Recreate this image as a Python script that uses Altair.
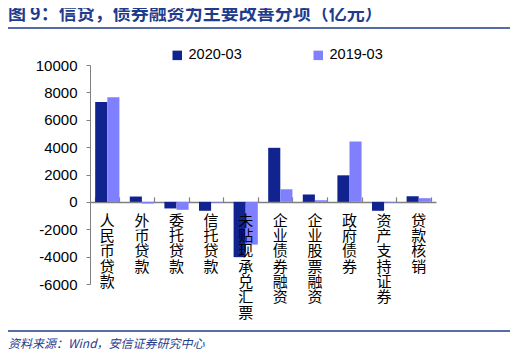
import altair as alt
import pandas as pd

categories = ["人民币贷款", "外币贷款", "委托贷款", "信托贷款", "未贴现承兑汇票",
              "企业债券融资", "企业股票融资", "政府债券", "资产支持证券", "贷款核销"]
series = ["2020-03", "2019-03"]
v2020 = [7290, 390, -480, -650, -4040, 3950, 540, 1940, -650, 410]
v2019 = [7650, -120, -580, -40, -3120, 920, 120, 4410, -50, 270]
colors = ["#10238E", "#8080FF"]
y_ticks = [-6000, -4000, -2000, 0, 2000, 4000, 6000, 8000, 10000]

rows = []
for c, a, b in zip(categories, v2020, v2019):
    rows.append({"cat": c, "series": series[0], "value": a})
    rows.append({"cat": c, "series": series[1], "value": b})
df = pd.DataFrame(rows)
lab = pd.DataFrame({"cat": categories, "lab": ["\n".join(list(c)) for c in categories], "value": [0] * len(categories)})

W, H = 346, 219
CJK = "Noto Sans CJK SC"
LAT = "Liberation Sans"

xscale = alt.Scale(paddingInner=0.3, paddingOuter=0.15)
xaxis = alt.Axis(orient="top", offset=-H * 10 / 16, labels=False, ticks=True,
                 tickBand="extent", tickSize=5, tickColor="#808080",
                 domainColor="#808080", domainWidth=1.5, tickWidth=1.2)
yscale = alt.Scale(domain=[-6000, 10000], nice=False)
yaxis = alt.Axis(values=y_ticks, labelExpr="'' + datum.value", labelOverlap=False,
                 labelBound=False, labelFlush=False,
                 grid=False, tickSize=4, tickColor="#808080",
                 domainColor="#808080", labelFont=LAT, labelFontSize=15,
                 labelColor="#000000", labelPadding=9)

bars = alt.Chart(df).mark_bar().encode(
    x=alt.X("cat:N", sort=categories, title=None, scale=xscale, axis=xaxis),
    xOffset=alt.XOffset("series:N", sort=series, scale=alt.Scale(paddingInner=0, paddingOuter=0)),
    y=alt.Y("value:Q", scale=yscale, title=None, axis=yaxis),
    color=alt.Color("series:N", sort=series, scale=alt.Scale(domain=series, range=colors),
                    legend=alt.Legend(title=None, orient="none", legendX=80, legendY=-17,
                                      direction="horizontal", symbolType="square", symbolSize=90,
                                      symbolStrokeWidth=0, labelFont=LAT, labelFontSize=14.5,
                                      labelColor="#000000", columnPadding=69, labelOffset=4)),
)

labels = alt.Chart(lab).mark_text(lineBreak="\n", baseline="top", dy=12, font=CJK,
                                  fontSize=15, lineHeight=15.3, color="#000000").encode(
    x=alt.X("cat:N", sort=categories, title=None, scale=xscale, axis=xaxis),
    y=alt.Y("value:Q", scale=yscale, title=None, axis=yaxis),
    text="lab:N",
)

title = alt.Chart(pd.DataFrame({"t": ["图 9：信贷，债券融资为主要改善分项（亿元）"]})).mark_text(
    align="left", baseline="middle", font=CJK, fontSize=18, fontWeight="bold", color="#1F3C8C"
).encode(x=alt.value(-82), y=alt.value(-50), text="t:N")

src = alt.Chart(pd.DataFrame({"t": ["资料来源：Wind，安信证券研究中心"]})).mark_text(
    align="left", baseline="middle", font=CJK, fontSize=12, fontStyle="italic", color="#1F3C8C"
).encode(x=alt.value(-82), y=alt.value(279), text="t:N")

line_df = pd.DataFrame({"k": [1]})
top_line = alt.Chart(line_df).mark_rule(color="#1F3C8C", strokeWidth=1.5).encode(
    x=alt.value(-85), x2=alt.value(420), y=alt.value(-37))
bot_line = alt.Chart(line_df).mark_rule(color="#1F3C8C", strokeWidth=1.5).encode(
    x=alt.value(-85), x2=alt.value(420), y=alt.value(266))

chart = alt.layer(bars, labels, title, src, top_line, bot_line).properties(
    width=W, height=H,
    autosize=alt.AutoSizeParams(type="none"),
    padding={"left": 82, "top": 57, "right": 74, "bottom": 70},
).configure_view(stroke=None)

chart.save("out.html", embed_options={"renderer": "svg", "actions": False})
